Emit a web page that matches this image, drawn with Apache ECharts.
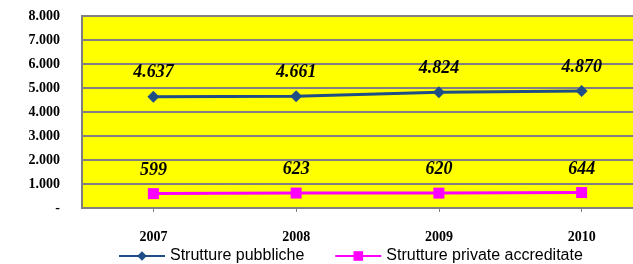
<!DOCTYPE html>
<html>
<head>
<meta charset="utf-8">
<style>
  html, body { margin: 0; padding: 0; background: #fff; overflow: hidden; }
  /* il grafico originale è tagliato a destra: area più larga della finestra */
  #chart { width: 653px; height: 264px; }
</style>
<script src="https://cdn.jsdelivr.net/npm/echarts@6/dist/echarts.min.js"></script>
</head>
<body>
<div id="chart"></div>
<script>
var years = ["2007", "2008", "2009", "2010"];
var pubbliche = [4637, 4661, 4824, 4870];
var private_ = [599, 623, 620, 644];
var yTicks = [0, 1000, 2000, 3000, 4000, 5000, 6000, 7000, 8000];

// formato italiano: punto come separatore delle migliaia
function fmt(v) {
  if (v === 0) return "-";
  return String(v).replace(/\B(?=(\d{3})+(?!\d))/g, ".");
}

var serif = "'Liberation Serif', 'Times New Roman', serif";
var chart = echarts.init(document.getElementById("chart"));

chart.setOption({
  animation: false,
  grid: {
    left: 82,
    right: 0,
    top: 16,
    bottom: 56,
    show: true,
    backgroundColor: "#FFFF00",
    borderColor: "#808080",
    borderWidth: 2
  },
  legend: {
    bottom: 0,
    left: 118,
    padding: 0,
    itemWidth: 46,
    itemHeight: 12,
    itemGap: 30,
    textStyle: { fontFamily: "'Liberation Sans', Arial, sans-serif", fontSize: 16, color: "#000" },
    data: ["Strutture pubbliche", "Strutture private accreditate"]
  },
  xAxis: {
    type: "category",
    data: years,
    boundaryGap: true,
    axisLine: { lineStyle: { color: "#808080", width: 2 } },
    axisTick: { show: true, alignWithLabel: true, length: 4, lineStyle: { color: "#808080" } },
    axisLabel: {
      margin: 22,
      fontFamily: serif,
      fontWeight: "bold",
      fontSize: 14,
      color: "#000"
    }
  },
  yAxis: {
    type: "value",
    min: yTicks[0],
    max: yTicks[yTicks.length - 1],
    interval: 1000,
    axisLine: { show: false },
    axisTick: { show: false },
    splitLine: { lineStyle: { color: "#808080", width: 2 } },
    axisLabel: {
      margin: 22,
      fontFamily: serif,
      fontWeight: "bold",
      fontSize: 14,
      color: "#000",
      formatter: fmt
    }
  },
  series: [
    {
      name: "Strutture pubbliche",
      type: "line",
      data: pubbliche,
      symbol: "diamond",
      symbolSize: 12,
      lineStyle: { color: "#1F4E86", width: 3 },
      itemStyle: { color: "#1F4E86" },
      label: {
        show: true,
        position: "top",
        distance: 9,
        fontFamily: serif,
        fontWeight: "bold",
        fontStyle: "italic",
        fontSize: 18,
        color: "#000",
        formatter: function (p) { return fmt(p.value); }
      }
    },
    {
      name: "Strutture private accreditate",
      type: "line",
      data: private_,
      symbol: "rect",
      symbolSize: 11,
      lineStyle: { color: "#FF00FF", width: 3 },
      itemStyle: { color: "#FF00FF" },
      label: {
        show: true,
        position: "top",
        distance: 9,
        fontFamily: serif,
        fontWeight: "bold",
        fontStyle: "italic",
        fontSize: 18,
        color: "#000",
        formatter: function (p) { return fmt(p.value); }
      }
    }
  ]
});
</script>
</body>
</html>
